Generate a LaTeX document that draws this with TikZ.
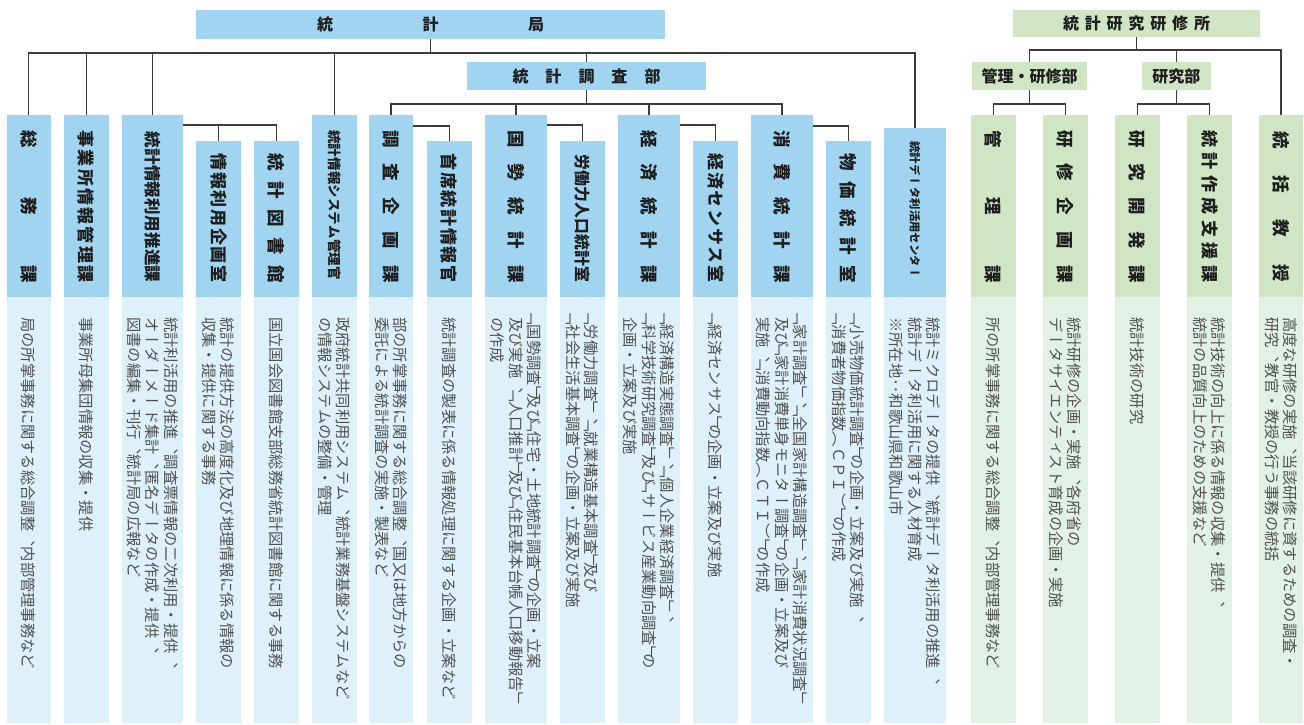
\documentclass[tikz,border=0pt]{standalone}
\usepackage{fontspec}
\usetikzlibrary{calc}
\newfontfamily\vjp{Noto Sans CJK JP}[Vertical=RotatedGlyphs, RawFeature=+vert]
\newfontfamily\hjp{Noto Sans CJK JP}
\definecolor{hblue}{RGB}{160,212,240}
\definecolor{dblue}{RGB}{222,241,250}
\definecolor{hgreen}{RGB}{207,229,196}
\definecolor{dgreen}{RGB}{226,241,229}
\definecolor{lnc}{RGB}{60,60,60}
\definecolor{htxt}{RGB}{30,30,30}
\definecolor{dtxt}{RGB}{80,80,80}
\newcommand\LB{\kern-.5em「}
\newcommand\RB{」\kern-.5em}
\newcommand\Org[6]{%
 \node[shp, fill=#5, minimum width=#3, minimum height={297-#4}] (h#1) at (#2,#4) {};
 \node[shp, fill=#6, minimum width=#3, minimum height=426] (d#1) at (#2,297) {};}
\newcommand\Lab[6]{\node[lab, font=\vjp\bfseries\fontsize{#5}{#5}\selectfont] (l#1) at (#2,{(#3+#4)/2}) {\makebox[\dimexpr #4pt-#3pt+#5pt\relax]{#6}};}
\newcommand\Desc[3]{\node[dsc] (t#1) at (#2,317) {#3};}
\tikzset{
 shp/.style={draw=none, inner sep=0, outer sep=0, anchor=north west},
 lab/.style={rotate=-90, inner sep=0, text=htxt},
 dsc/.style={rotate=-90, anchor=west, inner sep=0, align=left, text=dtxt, font=\vjp\fontsize{15.3}{18.3}\selectfont},
 ttl/.style={inner sep=0, outer sep=0, anchor=north west, text=htxt, font=\hjp\bfseries\fontsize{16}{16}\selectfont},
 conn/.style={draw=lnc, line width=1.1}
}
\begin{document}
\begin{tikzpicture}[x=1pt,y=-1pt]
\useasboundingbox (0,0) rectangle (1304,724);
% titles
\node[ttl, fill=hblue, minimum width=469, minimum height=29] (kyoku) at (196,10) {\makebox[227pt]{統\hfill 計\hfill 局}};
\node[ttl, fill=hblue, minimum width=239, minimum height=28] (chosa) at (467,62) {\makebox[148pt]{統\hfill 計\hfill 調\hfill 査\hfill 部}};
\node[ttl, fill=hgreen, minimum width=247, minimum height=27] (kenshujo) at (1013,10) {\makebox[147pt]{統\hfill 計\hfill 研\hfill 究\hfill 研\hfill 修\hfill 所}};
\node[ttl, fill=hgreen, minimum width=115, minimum height=28] (kanri) at (972,62) {管理・研修部};
\node[ttl, fill=hgreen, minimum width=68.5, minimum height=28] (kenkyu) at (1142,62) {研究部};
% units
\Org{a}{6.7}{44}{115}{hblue}{dblue}
\Org{b}{64}{45}{115}{hblue}{dblue}
\Org{c}{122}{61}{115}{hblue}{dblue}
\Org{d}{196}{45}{141}{hblue}{dblue}
\Org{e}{254}{45}{141}{hblue}{dblue}
\Org{f}{312}{45}{115}{hblue}{dblue}
\Org{g}{369}{44}{115}{hblue}{dblue}
\Org{h}{427}{45}{141}{hblue}{dblue}
\Org{i}{485}{62}{115}{hblue}{dblue}
\Org{j}{560}{45}{141}{hblue}{dblue}
\Org{k}{618}{62}{115}{hblue}{dblue}
\Org{l}{693}{45}{141}{hblue}{dblue}
\Org{m}{751}{62}{115}{hblue}{dblue}
\Org{n}{826}{45}{141}{hblue}{dblue}
\Org{o}{884}{62}{128}{hblue}{dblue}
\Org{p}{971}{45}{115}{hgreen}{dgreen}
\Org{q}{1043}{45}{115}{hgreen}{dgreen}
\Org{r}{1115}{45}{115}{hgreen}{dgreen}
\Org{s}{1187}{45}{115}{hgreen}{dgreen}
\Org{t}{1259}{44}{115}{hgreen}{dgreen}
% header labels
\Lab{a}{28.7}{139}{274}{17.5}{総\hfill 務\hfill 課}
\Lab{b}{86.5}{139}{274}{17}{事\hfill 業\hfill 所\hfill 情\hfill 報\hfill 管\hfill 理\hfill 課}
\Lab{c}{152.5}{140}{274}{16.5}{統\hfill 計\hfill 情\hfill 報\hfill 利\hfill 用\hfill 推\hfill 進\hfill 課}
\Lab{d}{218.5}{162}{274}{17}{情\hfill 報\hfill 利\hfill 用\hfill 企\hfill 画\hfill 室}
\Lab{e}{276.5}{162}{274}{17.5}{統\hfill 計\hfill 図\hfill 書\hfill 館}
\Lab{f}{334.5}{137}{273}{13.5}{統\hfill 計\hfill 情\hfill 報\hfill シ\hfill ス\hfill テ\hfill ム\hfill 管\hfill 理\hfill 官}
\Lab{g}{391}{139}{274}{17.5}{調\hfill 査\hfill 企\hfill 画\hfill 課}
\Lab{h}{449.5}{162}{274}{17}{首\hfill 席\hfill 統\hfill 計\hfill 情\hfill 報\hfill 官}
\Lab{i}{516}{139}{274}{17.5}{国\hfill 勢\hfill 統\hfill 計\hfill 課}
\Lab{j}{582.5}{162}{274}{15.8}{労\hfill 働\hfill 力\hfill 人\hfill 口\hfill 統\hfill 計\hfill 室}
\Lab{k}{649}{139}{274}{17.5}{経\hfill 済\hfill 統\hfill 計\hfill 課}
\Lab{l}{715.5}{162}{274}{17}{経\hfill 済\hfill セ\hfill ン\hfill サ\hfill ス\hfill 室}
\Lab{m}{782}{139}{274}{17.5}{消\hfill 費\hfill 統\hfill 計\hfill 課}
\Lab{n}{848.5}{162}{274}{17.5}{物\hfill 価\hfill 統\hfill 計\hfill 室}
\Lab{o}{915}{147}{273}{11.3}{統\hfill 計\hfill デ\hfill ー\hfill タ\hfill 利\hfill 活\hfill 用\hfill セ\hfill ン\hfill タ\hfill ー}
\Lab{p}{993.5}{139}{274}{17.5}{管\hfill 理\hfill 課}
\Lab{q}{1065.5}{139}{274}{17.5}{研\hfill 修\hfill 企\hfill 画\hfill 課}
\Lab{r}{1137.5}{139}{274}{17.5}{研\hfill 究\hfill 開\hfill 発\hfill 課}
\Lab{s}{1209.5}{139}{274}{17}{統\hfill 計\hfill 作\hfill 成\hfill 支\hfill 援\hfill 課}
\Lab{t}{1281}{140}{273}{17.5}{統\hfill 括\hfill 教\hfill 授}
% descriptions
\Desc{a}{28.7}{局の所掌事務に関する総合調整、内部管理事務など}
\Desc{b}{86.5}{事業所母集団情報の収集・提供}
\Desc{c}{152.5}{統計利活用の推進、調査票情報の二次利用・提供、\\オーダーメード集計、匿名データの作成・提供、\\図書の編集・刊行、統計局の広報など}
\Desc{d}{218.5}{統計の提供方法の高度化及び地理情報に係る情報の\\収集・提供に関する事務}
\Desc{e}{276.5}{国立国会図書館支部総務省統計図書館に関する事務}
\Desc{f}{334.5}{政府統計共同利用システム、統計業務基盤システムなど\\の情報システムの整備・管理}
\Desc{g}{391}{部の所掌事務に関する総合調整、国又は地方からの\\委託による統計調査の実施・製表など}
\Desc{h}{449.5}{統計調査の製表に係る情報処理に関する企画・立案など}
\Desc{i}{516}{\LB{}国勢調査\RB{}及び\LB{}住宅・土地統計調査\RB{}の企画・立案\\及び実施、\LB{}人口推計\RB{}及び\LB{}住民基本台帳人口移動報告\RB{}\\の作成}
\Desc{j}{582.5}{\LB{}労働力調査\RB{}、\LB{}就業構造基本調査\RB{}及び\\\LB{}社会生活基本調査\RB{}の企画・立案及び実施}
\Desc{k}{649}{\LB{}経済構造実態調査\RB{}、\LB{}個人企業経済調査\RB{}、\\\LB{}科学技術研究調査\RB{}及び\LB{}サービス産業動向調査\RB{}の\\企画・立案及び実施}
\Desc{l}{715.5}{\LB{}経済センサス\RB{}の企画・立案及び実施}
\Desc{m}{782}{\LB{}家計調査\RB{}、\LB{}全国家計構造調査\RB{}、\LB{}家計消費状況調査\RB{}\\及び\LB{}家計消費単身モニター調査\RB{}の企画・立案及び\\実施、\LB{}消費動向指数（ＣＴＩ）\RB{}の作成}
\Desc{n}{848.5}{\LB{}小売物価統計調査\RB{}の企画・立案及び実施、\\\LB{}消費者物価指数（ＣＰＩ）\RB{}の作成}
\Desc{o}{915}{統計ミクロデータの提供、統計データ利活用の推進、\\統計データ利活用に関する人材育成\\※所在地：和歌山県和歌山市}
\Desc{p}{993.5}{所の所掌事務に関する総合調整、内部管理事務など}
\Desc{q}{1065.5}{統計研修の企画・実施、各府省の\\データサイエンティスト育成の企画・実施}
\Desc{r}{1137.5}{統計技術の研究}
\Desc{s}{1209.5}{統計技術の向上に係る情報の収集・提供、\\統計の品質向上のための支援など}
\Desc{t}{1281}{高度な研修の実施、当該研修に資するための調査・\\研究、教官・教授の行う事務の統括}
% connectors
\coordinate (bus1) at (430.5,53);
\draw[conn] (kyoku.south) -- (kyoku.south |- bus1);
\draw[conn] (ha.north) |- (ho.north |- bus1) -- (ho.north);
\foreach \n in {b,c,f} \draw[conn] (h\n.north) -- (h\n.north |- bus1);
\draw[conn] (chosa.north) -- (chosa.north |- bus1);
\coordinate (bus2) at (587,104);
\draw[conn] (chosa.south) -- (chosa.south |- bus2);
\draw[conn] (hg.north) |- (hm.north |- bus2) -- (hm.north);
\foreach \n in {i,k} \draw[conn] (h\n.north) -- (h\n.north |- bus2);
\coordinate (jc) at ($(hc.north east)+(0,10)$);
\draw[conn] (jc) -| (he.north);
\draw[conn] (hd.north) -- (hd.north |- jc);
\coordinate (jg) at ($(hg.north east)+(0,11)$);
\draw[conn] (jg) -| (hh.north);
\coordinate (ji) at ($(hi.north east)+(0,10)$);
\draw[conn] (ji) -| (hj.north);
\coordinate (jk) at ($(hk.north east)+(0,10)$);
\draw[conn] (jk) -| (hl.north);
\coordinate (jm) at ($(hm.north east)+(0,11)$);
\draw[conn] (jm) -| (hn.north);
\coordinate (bus3) at (1136.5,50);
\draw[conn] (kenshujo.south) -- (kenshujo.south |- bus3);
\draw[conn] (kanri.north) |- (ht.north |- bus3) -- (ht.north);
\draw[conn] (kenkyu.north) -- (kenkyu.north |- bus3);
\coordinate (bus4) at (1029.5,104);
\draw[conn] (kanri.south) -- (kanri.south |- bus4);
\draw[conn] (hp.north) |- (hq.north |- bus4) -- (hq.north);
\draw[conn] (kenkyu.south) -- (kenkyu.south |- bus4);
\draw[conn] (hr.north) |- (hs.north |- bus4) -- (hs.north);
\end{tikzpicture}
\end{document}
